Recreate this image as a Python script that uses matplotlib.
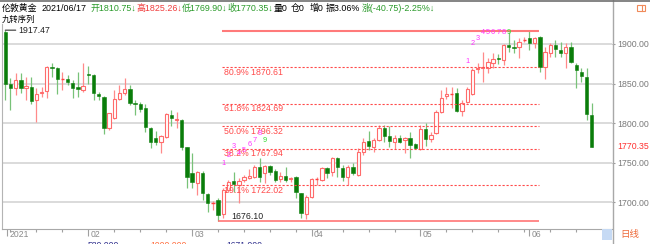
import matplotlib
matplotlib.use('Agg')
import matplotlib.pyplot as plt
import matplotlib.transforms as mtransforms
from matplotlib.patches import Rectangle
from matplotlib.lines import Line2D
import numpy as np
import pandas as pd

W, H = 650, 244
FAM = ['Liberation Sans', 'Noto Sans CJK SC', 'DejaVu Sans']

# ---------------- data ----------------
dates = pd.bdate_range('2021-01-08', '2021-06-17')
dates = dates[dates != pd.Timestamp('2021-04-02')]

opens = [1914.7, 1849.1, 1844.9, 1854.6, 1844.9, 1845.7, 1829.3, 1838.1, 1840.6, 1871.4,
         1870.1, 1855.8, 1855.4, 1850.4, 1845.3, 1841.9, 1862.6, 1860.9, 1836.9, 1833.5,
         1793.5, 1807.0, 1830.6, 1837.7, 1843.2, 1826.0, 1824.6, 1818.7, 1794.3, 1780.9,
         1775.8, 1783.0, 1810.4, 1803.6, 1804.0, 1769.5, 1737.6, 1724.0, 1736.7, 1710.6,
         1699.3, 1703.0, 1685.0, 1715.7, 1727.0, 1722.0, 1728.3, 1731.0, 1732.5, 1745.1,
         1737.6, 1746.4, 1740.1, 1729.5, 1733.7, 1729.0, 1732.5, 1711.4, 1684.9, 1707.2,
         1728.5, 1728.3, 1743.0, 1738.8, 1755.6, 1743.9, 1732.5, 1745.1, 1734.6, 1764.0,
         1777.5, 1770.4, 1778.8, 1793.5, 1783.8, 1775.8, 1780.9, 1778.8, 1780.9, 1773.3,
         1767.4, 1792.7, 1780.0, 1787.2, 1814.6, 1834.4, 1836.0, 1837.7, 1815.4, 1827.2,
         1836.5, 1868.0, 1869.7, 1870.1, 1875.6, 1882.8, 1879.8, 1898.7, 1896.6, 1896.6,
         1904.5, 1908.0, 1900.8, 1909.3, 1871.4, 1888.2, 1898.7, 1892.4, 1888.2, 1896.6,
         1873.5, 1864.2, 1858.8, 1810.75]
highs = [1917.47, 1856.7, 1863.0, 1863.4, 1858.8, 1857.9, 1844.0, 1846.1, 1872.7, 1875.6,
         1871.0, 1865.1, 1860.9, 1854.6, 1864.2, 1875.6, 1872.7, 1861.7, 1839.8, 1834.8,
         1813.3, 1841.9, 1848.3, 1856.7, 1848.3, 1829.3, 1827.2, 1823.8, 1795.6, 1790.0,
         1785.0, 1812.5, 1816.7, 1814.6, 1804.9, 1770.0, 1762.0, 1739.7, 1740.0, 1712.0,
         1701.5, 1705.0, 1717.8, 1728.3, 1738.8, 1730.4, 1734.6, 1742.2, 1747.2, 1755.6,
         1747.2, 1747.2, 1742.0, 1738.8, 1745.1, 1732.5, 1733.0, 1712.0, 1709.4, 1730.4,
         1732.5, 1745.0, 1745.1, 1757.8, 1757.8, 1747.2, 1747.0, 1749.3, 1769.0, 1781.7,
         1790.2, 1780.9, 1797.7, 1797.7, 1796.9, 1785.0, 1785.0, 1783.0, 1789.3, 1774.6,
         1797.7, 1799.8, 1788.4, 1816.7, 1841.9, 1845.3, 1846.0, 1844.0, 1829.3, 1846.1,
         1869.3, 1875.6, 1890.3, 1882.8, 1888.2, 1887.0, 1900.0, 1914.7, 1905.0, 1907.2,
         1909.3, 1916.53, 1909.3, 1909.8, 1896.6, 1900.8, 1905.0, 1903.0, 1900.8, 1903.0,
         1875.6, 1869.3, 1869.3, 1825.26]
lows = [1829.3, 1816.7, 1835.6, 1838.0, 1829.3, 1823.8, 1802.0, 1833.5, 1832.2, 1858.8,
        1836.9, 1841.9, 1848.3, 1832.2, 1833.5, 1839.8, 1849.1, 1829.3, 1829.3, 1785.9,
        1791.4, 1805.0, 1829.3, 1835.6, 1823.0, 1810.4, 1813.7, 1788.4, 1769.0, 1772.5,
        1761.9, 1780.9, 1796.9, 1793.5, 1766.2, 1717.8, 1717.8, 1709.3, 1703.0, 1688.0,
        1690.0, 1676.1, 1680.0, 1713.6, 1713.6, 1698.8, 1726.2, 1729.5, 1730.4, 1726.2,
        1724.0, 1734.6, 1726.2, 1726.0, 1726.2, 1726.2, 1706.0, 1679.9, 1678.6, 1706.0,
        1722.0, 1727.0, 1730.4, 1733.8, 1732.5, 1727.0, 1722.0, 1734.6, 1733.8, 1759.9,
        1766.2, 1764.0, 1778.0, 1776.7, 1770.4, 1767.4, 1774.6, 1762.0, 1756.5, 1767.4,
        1766.0, 1771.6, 1775.8, 1786.0, 1812.5, 1830.6, 1818.8, 1813.7, 1809.5, 1825.0,
        1835.6, 1863.0, 1851.6, 1863.0, 1869.3, 1874.3, 1873.5, 1890.3, 1888.2, 1881.9,
        1903.0, 1892.4, 1894.5, 1865.1, 1855.8, 1884.0, 1884.0, 1884.0, 1870.1, 1875.6,
        1844.9, 1852.4, 1804.0, 1769.90]
closes = [1849.1, 1844.0, 1854.6, 1844.9, 1847.4, 1828.0, 1836.5, 1839.8, 1871.4, 1869.3,
          1855.8, 1856.7, 1851.6, 1844.0, 1843.2, 1847.0, 1860.9, 1837.7, 1834.4, 1794.3,
          1813.3, 1830.6, 1838.5, 1843.2, 1825.1, 1824.2, 1817.9, 1794.7, 1775.8, 1776.7,
          1783.8, 1811.2, 1807.0, 1805.7, 1770.4, 1732.5, 1725.3, 1738.8, 1711.5, 1699.3,
          1700.0, 1684.0, 1715.7, 1726.2, 1722.8, 1727.4, 1732.5, 1733.7, 1745.1, 1732.5,
          1746.0, 1738.8, 1728.3, 1733.7, 1728.3, 1731.2, 1713.6, 1686.2, 1707.2, 1729.1,
          1729.5, 1743.0, 1737.6, 1755.6, 1745.1, 1732.5, 1745.1, 1736.7, 1764.0, 1775.8,
          1771.6, 1778.8, 1793.5, 1783.8, 1778.0, 1781.7, 1776.7, 1780.9, 1772.5, 1769.1,
          1792.7, 1780.0, 1785.0, 1814.6, 1831.4, 1836.5, 1836.5, 1815.4, 1825.1, 1842.8,
          1867.2, 1870.1, 1871.4, 1876.9, 1881.0, 1881.1, 1898.7, 1896.6, 1894.5, 1903.0,
          1905.5, 1900.8, 1908.0, 1871.4, 1890.3, 1898.7, 1893.3, 1888.2, 1896.6, 1877.7,
          1867.2, 1859.6, 1811.2, 1770.35]

price_ticks = [1700, 1750, 1800, 1850, 1900]
fib_low, fib_high = 1676.10, 1916.53
fib_ratio_labels = ['19.1%', '38.2%', '50.0%', '61.8%', '80.9%']
fib_values = [1722.02, 1767.94, 1796.32, 1824.69, 1870.61]
fib_low_idx, fib_high_idx = 41, 101
nine_starts = [42, 89]
month_labels = ['2021', '02', '03', '04', '05', '06']

header_text = ["伦敦黄金", "2021/06/17", "开1810.75↓", "高1825.26↓", "低1769.90↓", "收1770.35↓",
               "量0", "仓0", "增0", "振3.06%", "涨(-40.75)-2.25%↓"]
header_colors = ['#000000', '#000000', '#2a9a2a', '#f03c3c', '#2a9a2a', '#2a9a2a',
                 '#000000', '#000000', '#000000', '#000000', '#2a9a2a']
header_gaps = [4, 4, 0, 0, 0, 0, 3, 5, 2, 2, 0]

# ---------------- figure ----------------
fig = plt.figure(figsize=(W / 100, H / 100), dpi=100)
fig.patch.set_facecolor('white')

def fx(x): return x / W
def fy(y): return 1 - y / H

top_px, bot_px, left_px, right_px = 24, 228.5, 2, 612
ax = fig.add_axes([left_px / W, 1 - bot_px / H, (right_px - left_px) / W, (bot_px - top_px) / H])
ax.set_facecolor('white')

n = len(opens)
o = np.array(opens); c = np.array(closes); hi = np.array(highs); lo = np.array(lows)

UP_EDGE = '#ff6b6b'
UP_WICK = '#ff8a8a'
DN_BODY = '#0a7d0a'
DN_WICK = '#78c278'
bw = 0.64

ax.set_xlim(-0.636, 116.9)
ax.set_ylim(1667.05, 1925.25)

for p in price_ticks:
    ax.axhline(p, color='#dadada', lw=1.4, zorder=0)

for i in range(n):
    up = c[i] >= o[i]
    btm, tp = min(o[i], c[i]), max(o[i], c[i])
    if up:
        ax.vlines(i, lo[i], hi[i], color=UP_WICK, lw=0.9, zorder=2)
        if tp - btm < 1.5:
            ax.hlines((o[i] + c[i]) / 2, i - bw / 2, i + bw / 2, color='#ff4040', lw=1.0, zorder=3)
        else:
            ax.add_patch(Rectangle((i - bw / 2, btm), bw, tp - btm, facecolor='white',
                                   edgecolor=UP_EDGE, lw=0.8, zorder=3))
    else:
        ax.vlines(i, lo[i], hi[i], color=DN_WICK, lw=0.9, zorder=2)
        ax.add_patch(Rectangle((i - bw / 2, btm), bw, max(tp - btm, 0.8), facecolor=DN_BODY,
                               edgecolor=DN_BODY, lw=0.4, zorder=3))

# fibonacci lines
x0 = fib_low_idx + 0.85
x1 = fib_high_idx + 1.9
ax.hlines(fib_high, x0, x1, color='#ff7a7a', lw=1.5, zorder=4)
ax.hlines(fib_low, fib_low_idx, x1, color='#ff6a6a', lw=1.1, zorder=4)
for lab, v in zip(fib_ratio_labels, fib_values):
    ax.hlines(v, x0, x1, color='#ff4a4a', lw=0.8, linestyles=(0, (2, 1.6)), zorder=4)
    ax.annotate(f"{lab} {v:.2f}", (x0 + 0.2, v), xytext=(0, -3.7), textcoords='offset points',
                ha='left', va='center', fontsize=6.3, color='#ff4a4a', family=FAM, zorder=5)
ax.annotate(f"{fib_low:.2f}", (fib_low_idx + 2.6, fib_low), xytext=(0, 3.4), textcoords='offset points',
            ha='left', va='center', fontsize=6.3, color='#222222', family=FAM, zorder=5)

ax.annotate(f"{highs[0]:.2f}", (0, highs[0]), xytext=(9.5, 0), textcoords='offset points',
            ha='left', va='center', fontsize=6.3, color='#222222', family=FAM, zorder=5,
            arrowprops=dict(arrowstyle='-', color='#333333', lw=0.8, shrinkA=0, shrinkB=0))

# nine-turn sequence labels
cap = fib_high - 2.5
for s in nine_starts:
    for k in range(9):
        j = s + k
        yv = min(hi[j] + 31.5, cap)
        col = '#33dd33' if k == 8 else '#ff33ff'
        ax.text(j, yv, str(k + 1), ha='center', va='center', fontsize=5.3, color=col,
                family=FAM, zorder=6)

# right axis
ax.yaxis.tick_right()
ax.set_yticks(price_ticks)
ax.set_yticklabels([f"{p:.2f}" for p in price_ticks])
ax.tick_params(axis='y', length=2.2, width=0.8, color='#9a9a9a', labelcolor='#7a7a7a',
               labelsize=6.3, pad=1.4)
for lbl in ax.get_yticklabels():
    lbl.set_family(FAM)
trans_r = mtransforms.blended_transform_factory(ax.transAxes, ax.transData)
ax.text(1.0 + 5 / 610, closes[-1], f"{closes[-1]:.2f}", transform=trans_r, ha='left', va='center',
        fontsize=6.3, color='#ff3030', family=FAM)

# x axis ticks
wk = [i for i in range(1, n) if dates[i].weekday() < dates[i - 1].weekday()]
mo = [0] + [i for i in range(1, n) if dates[i].month != dates[i - 1].month]
ax.set_xticks([i for i in wk if i not in mo])
ax.tick_params(axis='x', length=1.8, width=0.8, color='#a0a0a0', labelbottom=False)
trans_x = mtransforms.blended_transform_factory(ax.transData, ax.transAxes)
ah = bot_px - top_px
for j, lab in zip(mo, month_labels):
    xj = j + (0.3 if j == 0 else 0)
    ax.vlines(xj, -7 / ah, 0, transform=trans_x, color='#a0a0a0', lw=0.8, clip_on=False)
    ax.text(xj + 0.45, -6 / ah, lab, transform=trans_x, ha='left', va='center', fontsize=6.2,
            color='#8a8a8a', family=FAM)

for side in ['top', 'right']:
    ax.spines[side].set_visible(False)
ax.spines['left'].set_color('#b4b4b4')
ax.spines['bottom'].set_color('#a8a8a8')

# figure-level decorations
fig.add_artist(Line2D([fx(612.5), fx(612.5)], [0, 1], color='#a8a8a8', lw=1.0))
fig.add_artist(Line2D([0, 1], [fy(0.6), fy(0.6)], color='#707070', lw=1.2))
fig.add_artist(Rectangle((fx(602), fy(240)), 9.5 / W, 11 / H, facecolor='#c6daf4',
                         edgecolor='none', transform=fig.transFigure))
fig.text(fx(620), fy(235), "日线", fontsize=6.8, color='#ee6a3a', ha='left', va='center', family=FAM)
fig.add_artist(Rectangle((fx(637), fy(11)), 8 / W, 6 / H, facecolor='none',
                         edgecolor='#f08a5a', lw=0.8, transform=fig.transFigure))
fig.add_artist(Line2D([fx(642), fx(642)], [fy(11), fy(5)], color='#f08a5a', lw=0.8))

# header laid out sequentially, font size fitted to the reference width
renderer = fig.canvas.get_renderer()

def lay_header(fs):
    x = 2.0
    arts = []
    for s, col, gap in zip(header_text, header_colors, header_gaps):
        t = fig.text(fx(x), fy(8.2), s, fontsize=fs, color=col, ha='left', va='center', family=FAM)
        x += t.get_window_extent(renderer).width + gap
        arts.append(t)
    return x, arts

end, arts = lay_header(6.0)
for a in arts:
    a.remove()
gsum = sum(header_gaps)
fs = 6.0 * (438 - 2 - gsum) / (end - 2 - gsum)
lay_header(fs)
fig.text(fx(2), fy(20), "九转序列", fontsize=6.0, color='#000000', ha='left', va='center', family=FAM)

# clipped indicator values at the bottom edge
for s, col, x in [("580.000", '#2a2a8a', 88), ("1000.000", '#ff6a3a', 150),
                  ("1671.000", '#2a2a8a', 226)]:
    fig.text(fx(x), fy(241.2), s, fontsize=6.2, color=col, ha='left', va='top', family=FAM)

fig.savefig('out.png', dpi=100, facecolor='white')
